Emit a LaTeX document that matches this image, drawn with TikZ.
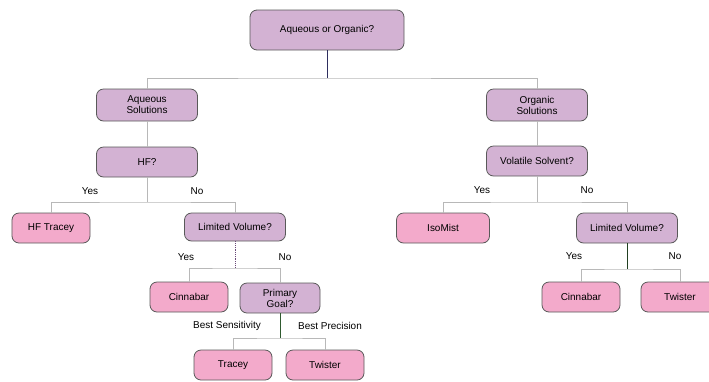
\documentclass[tikz,border=0pt]{standalone}
\usepackage{fontspec}
\setmainfont{Liberation Sans}
\definecolor{lavender}{HTML}{D3B2D3}
\definecolor{rosepink}{HTML}{F3AACB}
\definecolor{stemnavy}{HTML}{2E2E5E}
\definecolor{stemgreen}{HTML}{2F5A2F}
\definecolor{stemplum}{HTML}{6A4A78}
\tikzset{
	% ------- every something
	every node/.style={
		font=\fontsize{10}{11}\selectfont,
	},
	% ------- custom
	question/.style={
		draw=black!65, line width=0.8pt, fill=lavender,
		rounded corners=7bp, align=center, inner sep=1bp,
		minimum width=101bp, minimum height=30bp,
	},
	answer/.style={
		draw=black!65, line width=0.8pt, fill=rosepink,
		rounded corners=7bp, align=center, inner sep=1bp,
		minimum width=78bp, minimum height=30bp,
	},
	branch/.style={
		line width=0.6pt,
		black!28,
	},
	stem/.style={
		line width=0.8pt,
	},
	branchlabel/.style={
		inner sep=1bp,
	},
}

\begin{document}
\begin{tikzpicture}[x=1bp, y=-1bp]

% frame %{{{1

	\useasboundingbox (0,0) rectangle (709,381);

% bar coordinates %{{{1

	\coordinate (bar1) at (327,78);
	\coordinate (bar2) at (147,202);
	\coordinate (bar3) at (537,202);
	\coordinate (bar4) at (235,268);
	\coordinate (bar5) at (627,269);
	\coordinate (bar6) at (280,338);

% questions %{{{1

	\node[question, minimum width=154bp, minimum height=40bp] (top) at (327,30) {Aqueous or Organic?};
	\node[question, minimum height=32bp] (aqsol) at (147,105) {Aqueous\\Solutions};
	\node[question, minimum height=32bp] (orgsol) at (537,105) {Organic\\Solutions};
	\node[question] (hf) at (147,162) {HF?};
	\node[question] (volat) at (537,161) {Volatile Solvent?};
	\node[question, minimum height=28bp] (limaq) at (235,227) {Limited Volume?};
	\node[question] (limorg) at (627,228) {Limited Volume?};
	\node[question, minimum width=80bp] (goal) at (280,298) {Primary\\Goal?};

% answers %{{{1

	\node[answer] (hftracey) at (51,228) {HF Tracey};
	\node[answer, minimum width=93bp] (isomist) at (443,228) {IsoMist};
	\node[answer] (cinaq) at (189,297) {Cinnabar};
	\node[answer] (cinorg) at (581,297) {Cinnabar};
	\node[answer] (tworg) at (680,297) {Twister};
	\node[answer] (tracey) at (233,365) {Tracey};
	\node[answer] (twaq) at (325,365) {Twister};

% connectors %{{{1

	\draw[branch] (aqsol.north) |- (bar1) -| (orgsol.north);
	\draw[stem, stemnavy] (top.south) -- (bar1);
	\draw[branch] (aqsol.south) -- (hf.north);
	\draw[branch] (orgsol.south) -- (volat.north);

	\draw[branch] (hf.south) -- (bar2);
	\draw[branch] (hftracey.north) |- (bar2) -| (limaq.north);
	\draw[branch] (volat.south) -- (bar3);
	\draw[branch] (isomist.north) |- (bar3) -| (limorg.north);

	\draw[branch] (cinaq.north) |- (bar4) -| (goal.north);
	\draw[stem, stemplum, densely dotted] (limaq.south) -- (bar4);
	\draw[branch] (cinorg.north) |- (bar5) -| (tworg.north);
	\draw[stem, stemgreen!70!black] (limorg.south) -- (bar5);

	\draw[branch] (tracey.north) |- (bar6) -| (twaq.north);
	\draw[stem, stemgreen] (goal.south) -- (bar6);

% branch labels %{{{1

	\node[branchlabel] (hfyes) at (90,191) {Yes};
	\node[branchlabel] (hfno) at (197,191) {No};
	\node[branchlabel] (volyes) at (482,190) {Yes};
	\node[branchlabel] (volno) at (587,190) {No};
	\node[branchlabel] (limaqyes) at (186,257) {Yes};
	\node[branchlabel] (limaqno) at (285,257) {No};
	\node[branchlabel] (limorgyes) at (574,256) {Yes};
	\node[branchlabel] (limorgno) at (675,256) {No};
	\node[branchlabel] (sens) at (227,326) {Best Sensitivity};
	\node[branchlabel] (prec) at (330,326) {Best Precision};

% closing %{{{1

\end{tikzpicture}
\end{document}
